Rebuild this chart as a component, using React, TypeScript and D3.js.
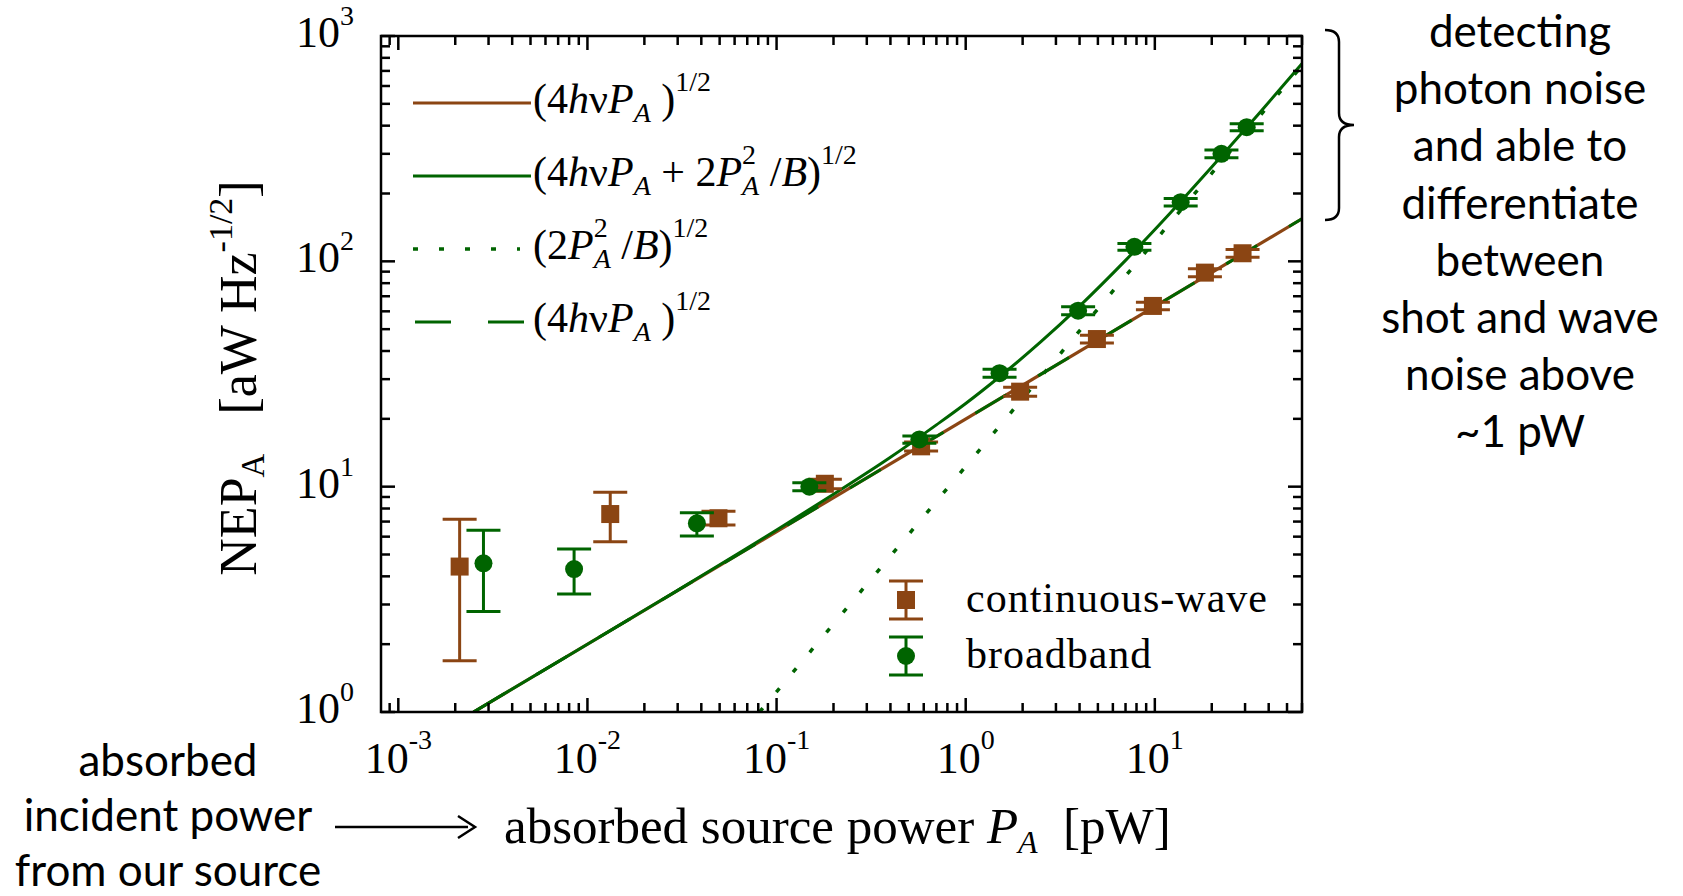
import React from "react";
import * as d3 from "d3";

// ---------------- data ----------------
// continuous-wave source (brown squares)
const cwP = [0.00211, 0.0132, 0.0493, 0.18, 0.581, 1.94, 4.94, 9.77, 18.4, 29.1];
const cwNEP = [4.42, 7.56, 7.24, 10.3, 15.1, 26.4, 45.2, 63.4, 89.1, 108.6];
const cwLow = [1.69, 5.7, 6.76, 9.8, 14.4, 25.2, 43.4, 60.9, 85.5, 104.3];
const cwHigh = [7.17, 9.44, 7.78, 10.8, 15.8, 27.6, 47.0, 65.9, 92.7, 112.9];

// broadband source (green circles)
const bbP = [0.00282, 0.0085, 0.0379, 0.149, 0.569, 1.51, 3.93, 7.8, 13.7, 22.5, 30.6];
const bbNEP = [4.57, 4.31, 6.88, 10.0, 16.2, 31.9, 60.4, 116, 183, 300, 394];
const bbLow = [2.79, 3.34, 6.04, 9.6, 15.6, 30.6, 58.0, 112, 176, 288, 380];
const bbHigh = [6.41, 5.29, 7.67, 10.4, 16.8, 33.2, 62.8, 120, 190, 312, 408];

// model lines
const shotP = [0.0025, 60];
const shotNEP = [1.0, 154.5];
const waveP = [0.0813, 60];
const waveNEP = [1.0, 738];
const totalP = [0.0025, 0.01, 0.03, 0.1, 0.2, 0.4, 0.7, 1, 1.5, 2.5, 4, 7, 12, 20, 35, 60];
const totalNEP = [1.0, 2.0, 3.47, 6.42, 9.25, 13.5, 18.8, 23.4, 30.6, 44.0, 63.3, 101, 163, 262, 446, 754];

const xTickExps = [-3, -2, -1, 0, 1];
const yTickExps = [0, 1, 2, 3];

const rightNote = [
  "detecting",
  "photon noise",
  "and able to",
  "differentiate",
  "between",
  "shot and wave",
  "noise above",
  "~1 pW",
];
const leftNote = ["absorbed", "incident power", "from our source"];

// ---------------- layout ----------------
const W = 1683;
const H = 896;
const L = 381;
const R = 1302;
const T = 36;
const B = 712;
const X_DOMAIN: [number, number] = [8.1e-4, 60];
const Y_DOMAIN: [number, number] = [1, 1000];

const BROWN = "#8B4513";
const GREEN = "#006400";
const SERIF = "'Liberation Serif', 'Times New Roman', serif";
const SANS = "Lato, 'Open Sans', sans-serif";

export default function App() {
  const x = d3.scaleLog().domain(X_DOMAIN).range([L, R]);
  const y = d3.scaleLog().domain(Y_DOMAIN).range([B, T]);

  const xTicks: { v: number; major: boolean }[] = [];
  for (let e = -4; e <= 1; e++)
    for (let m = 1; m <= 9; m++) {
      const v = m * Math.pow(10, e);
      if (v >= X_DOMAIN[0] * 0.999 && v <= X_DOMAIN[1] * 1.001) xTicks.push({ v, major: m === 1 });
    }
  const yTicks: { v: number; major: boolean }[] = [];
  for (let e = 0; e <= 3; e++)
    for (let m = 1; m <= 9; m++) {
      const v = m * Math.pow(10, e);
      if (v >= Y_DOMAIN[0] * 0.999 && v <= Y_DOMAIN[1] * 1.001) yTicks.push({ v, major: m === 1 });
    }

  const line = d3
    .line<[number, number]>()
    .x((d) => x(d[0]))
    .y((d) => y(d[1]));
  const smooth = d3
    .line<[number, number]>()
    .x((d) => x(d[0]))
    .y((d) => y(d[1]))
    .curve(d3.curveMonotoneX);

  const zip = (a: number[], b: number[]) => a.map((v, i) => [v, b[i]] as [number, number]);

  const MAJ = 14;
  const MIN = 9;
  const CAP = 17;

  const errBar = (px: number, lo: number, hi: number, color: string, key: string) => (
    <g key={key} stroke={color} strokeWidth={3} fill="none">
      <line x1={px} x2={px} y1={y(lo)} y2={y(hi)} />
      <line x1={px - CAP} x2={px + CAP} y1={y(lo)} y2={y(lo)} />
      <line x1={px - CAP} x2={px + CAP} y1={y(hi)} y2={y(hi)} />
    </g>
  );

  return (
    <svg
      width={W}
      height={H}
      style={{ position: "absolute", left: 0, top: 0, display: "block", background: "#fff" }}
    >
      <defs>
        <clipPath id="plotclip">
          <rect x={L} y={T} width={R - L} height={B - T} />
        </clipPath>
      </defs>

      {/* model lines */}
      <g clipPath="url(#plotclip)" fill="none">
        <path d={line(zip(shotP, shotNEP)) || ""} stroke={BROWN} strokeWidth={3.2} />
        <path d={line(zip(shotP, shotNEP)) || ""} stroke={GREEN} strokeWidth={3} strokeDasharray="36 37" />
        <path d={smooth(zip(totalP, totalNEP)) || ""} stroke={GREEN} strokeWidth={3} />
        <path d={line(zip(waveP, waveNEP)) || ""} stroke={GREEN} strokeWidth={3.5} strokeDasharray="5 21" />
      </g>

      {/* data: continuous-wave */}
      <g>
        {cwP.map((p, i) => errBar(x(p), cwLow[i], cwHigh[i], BROWN, "cwe" + i))}
        {cwP.map((p, i) => (
          <rect key={"cw" + i} x={x(p) - 9} y={y(cwNEP[i]) - 9} width={18} height={18} fill={BROWN} />
        ))}
      </g>
      {/* data: broadband */}
      <g>
        {bbP.map((p, i) => errBar(x(p), bbLow[i], bbHigh[i], GREEN, "bbe" + i))}
        {bbP.map((p, i) => (
          <circle key={"bb" + i} cx={x(p)} cy={y(bbNEP[i])} r={9} fill={GREEN} />
        ))}
      </g>

      {/* frame */}
      <rect x={L} y={T} width={R - L} height={B - T} fill="none" stroke="#000" strokeWidth={2.5} />
      <g stroke="#000" strokeWidth={2.5}>
        {xTicks.map((t, i) => {
          const px = x(t.v);
          const len = t.major ? MAJ : MIN;
          return (
            <g key={"xt" + i}>
              <line x1={px} x2={px} y1={B} y2={B - len} />
              <line x1={px} x2={px} y1={T} y2={T + len} />
            </g>
          );
        })}
        {yTicks.map((t, i) => {
          const py = y(t.v);
          const len = t.major ? MAJ : MIN;
          return (
            <g key={"yt" + i}>
              <line x1={L} x2={L + len} y1={py} y2={py} />
              <line x1={R} x2={R - len} y1={py} y2={py} />
            </g>
          );
        })}
      </g>

      {/* tick labels */}
      <g fontFamily={SERIF} fill="#000">
        {xTickExps.map((e) => (
          <text key={"xl" + e} x={x(Math.pow(10, e))} y={773} fontSize={44} textAnchor="middle">
            10
            <tspan fontSize={28} dy={-24}>
              {String(e)}
            </tspan>
          </text>
        ))}
        {yTickExps.map((e) => (
          <text key={"yl" + e} x={354} y={y(Math.pow(10, e)) + 11} fontSize={44} textAnchor="end">
            10
            <tspan fontSize={28} dy={-22}>
              {String(e)}
            </tspan>
          </text>
        ))}
      </g>

      {/* axis titles */}
      <text x={504} y={843} fontFamily={SERIF} fontSize={51} fill="#000">
        absorbed source power{"\u00a0"}
        <tspan fontStyle="italic">P</tspan>
        <tspan fontStyle="italic" fontSize={32} dy={10}>
          A
        </tspan>
        <tspan dy={-10}>{"\u00a0\u00a0"}[pW]</tspan>
      </text>
      <text
        transform={`translate(256,378) rotate(-90)`}
        textAnchor="middle"
        fontFamily={SERIF}
        fontSize={52}
        fill="#000"
      >
        NEP
        <tspan fontSize={33} dy={8}>
          A
        </tspan>
        <tspan dy={-8}>{"\u00a0\u00a0\u00a0"}[aW Hz</tspan>
        <tspan fontSize={34} dy={-24}>
          -1/2
        </tspan>
        <tspan dy={24}>]</tspan>
      </text>

      {/* legend: model lines */}
      <g fontFamily={SERIF} fontSize={42} fill="#000">
        <line x1={413} x2={531} y1={103} y2={103} stroke={BROWN} strokeWidth={3.2} />
        <text x={533} y={113}>
          (4<tspan fontStyle="italic">h</tspan>ν<tspan fontStyle="italic">P</tspan>
          <tspan fontStyle="italic" fontSize={28} dy={9}>
            A
          </tspan>
          <tspan dy={-9}>{"\u00a0"})</tspan>
          <tspan fontSize={28} dy={-22}>
            1/2
          </tspan>
        </text>

        <line x1={413} x2={531} y1={176} y2={176} stroke={GREEN} strokeWidth={3} />
        <text x={533} y={186}>
          (4<tspan fontStyle="italic">h</tspan>ν<tspan fontStyle="italic">P</tspan>
          <tspan fontStyle="italic" fontSize={28} dy={9}>
            A
          </tspan>
          <tspan dy={-9}>{"\u00a0+\u00a0"}2</tspan>
          <tspan fontStyle="italic">P</tspan>
          <tspan fontSize={28} dy={-22}>
            2
          </tspan>
          <tspan fontStyle="italic" fontSize={28} dx={-14} dy={31}>
            A
          </tspan>
          <tspan dy={-9}>{"\u00a0"}/</tspan>
          <tspan fontStyle="italic">B</tspan>
          <tspan>)</tspan>
          <tspan fontSize={28} dy={-22}>
            1/2
          </tspan>
        </text>

        <line x1={413} x2={520} y1={249} y2={249} stroke={GREEN} strokeWidth={3.5} strokeDasharray="5 21" />
        <text x={533} y={259}>
          (2<tspan fontStyle="italic">P</tspan>
          <tspan fontSize={28} dy={-22}>
            2
          </tspan>
          <tspan fontStyle="italic" fontSize={28} dx={-14} dy={31}>
            A
          </tspan>
          <tspan dy={-9}>{"\u00a0"}/</tspan>
          <tspan fontStyle="italic">B</tspan>
          <tspan>)</tspan>
          <tspan fontSize={28} dy={-22}>
            1/2
          </tspan>
        </text>

        <line x1={415} x2={524} y1={322} y2={322} stroke={GREEN} strokeWidth={3} strokeDasharray="36 37" />
        <text x={533} y={332}>
          (4<tspan fontStyle="italic">h</tspan>ν<tspan fontStyle="italic">P</tspan>
          <tspan fontStyle="italic" fontSize={28} dy={9}>
            A
          </tspan>
          <tspan dy={-9}>{"\u00a0"})</tspan>
          <tspan fontSize={28} dy={-22}>
            1/2
          </tspan>
        </text>
      </g>

      {/* legend: data */}
      <g>
        <g stroke={BROWN} strokeWidth={3}>
          <line x1={906} x2={906} y1={581} y2={619} />
          <line x1={889} x2={923} y1={581} y2={581} />
          <line x1={889} x2={923} y1={619} y2={619} />
        </g>
        <rect x={897} y={591} width={18} height={18} fill={BROWN} />
        <g stroke={GREEN} strokeWidth={3}>
          <line x1={906} x2={906} y1={637} y2={675} />
          <line x1={889} x2={923} y1={637} y2={637} />
          <line x1={889} x2={923} y1={675} y2={675} />
        </g>
        <circle cx={906} cy={656} r={9} fill={GREEN} />
        <text x={966} y={612} fontFamily={SERIF} fontSize={42} letterSpacing={1} fill="#000">
          continuous-wave
        </text>
        <text x={966} y={668} fontFamily={SERIF} fontSize={42} letterSpacing={1} fill="#000">
          broadband
        </text>
      </g>

      {/* right annotation with bracket */}
      <path
        d="M1325,30 Q1339,30 1339,42 L1339,113 Q1339,125 1354,125 Q1339,125 1339,137 L1339,208 Q1339,220 1325,220"
        fill="none"
        stroke="#000"
        strokeWidth={2.5}
      />
      <g fontFamily={SANS} fontSize={44} fill="#000" textAnchor="middle">
        {rightNote.map((s, i) => (
          <text key={"rn" + i} x={1520} y={47 + i * 57.2}>
            {s}
          </text>
        ))}
      </g>

      {/* left annotation with arrow */}
      <g fontFamily={SANS} fontSize={44} fill="#000" textAnchor="middle">
        {leftNote.map((s, i) => (
          <text key={"ln" + i} x={168} y={776 + i * 55}>
            {s}
          </text>
        ))}
      </g>
      <line x1={335} x2={468} y1={827} y2={827} stroke="#000" strokeWidth={2.5} />
      <path d="M458,816 L475,827 L458,838" fill="none" stroke="#000" strokeWidth={2.5} strokeLinejoin="miter" />
    </svg>
  );
}
